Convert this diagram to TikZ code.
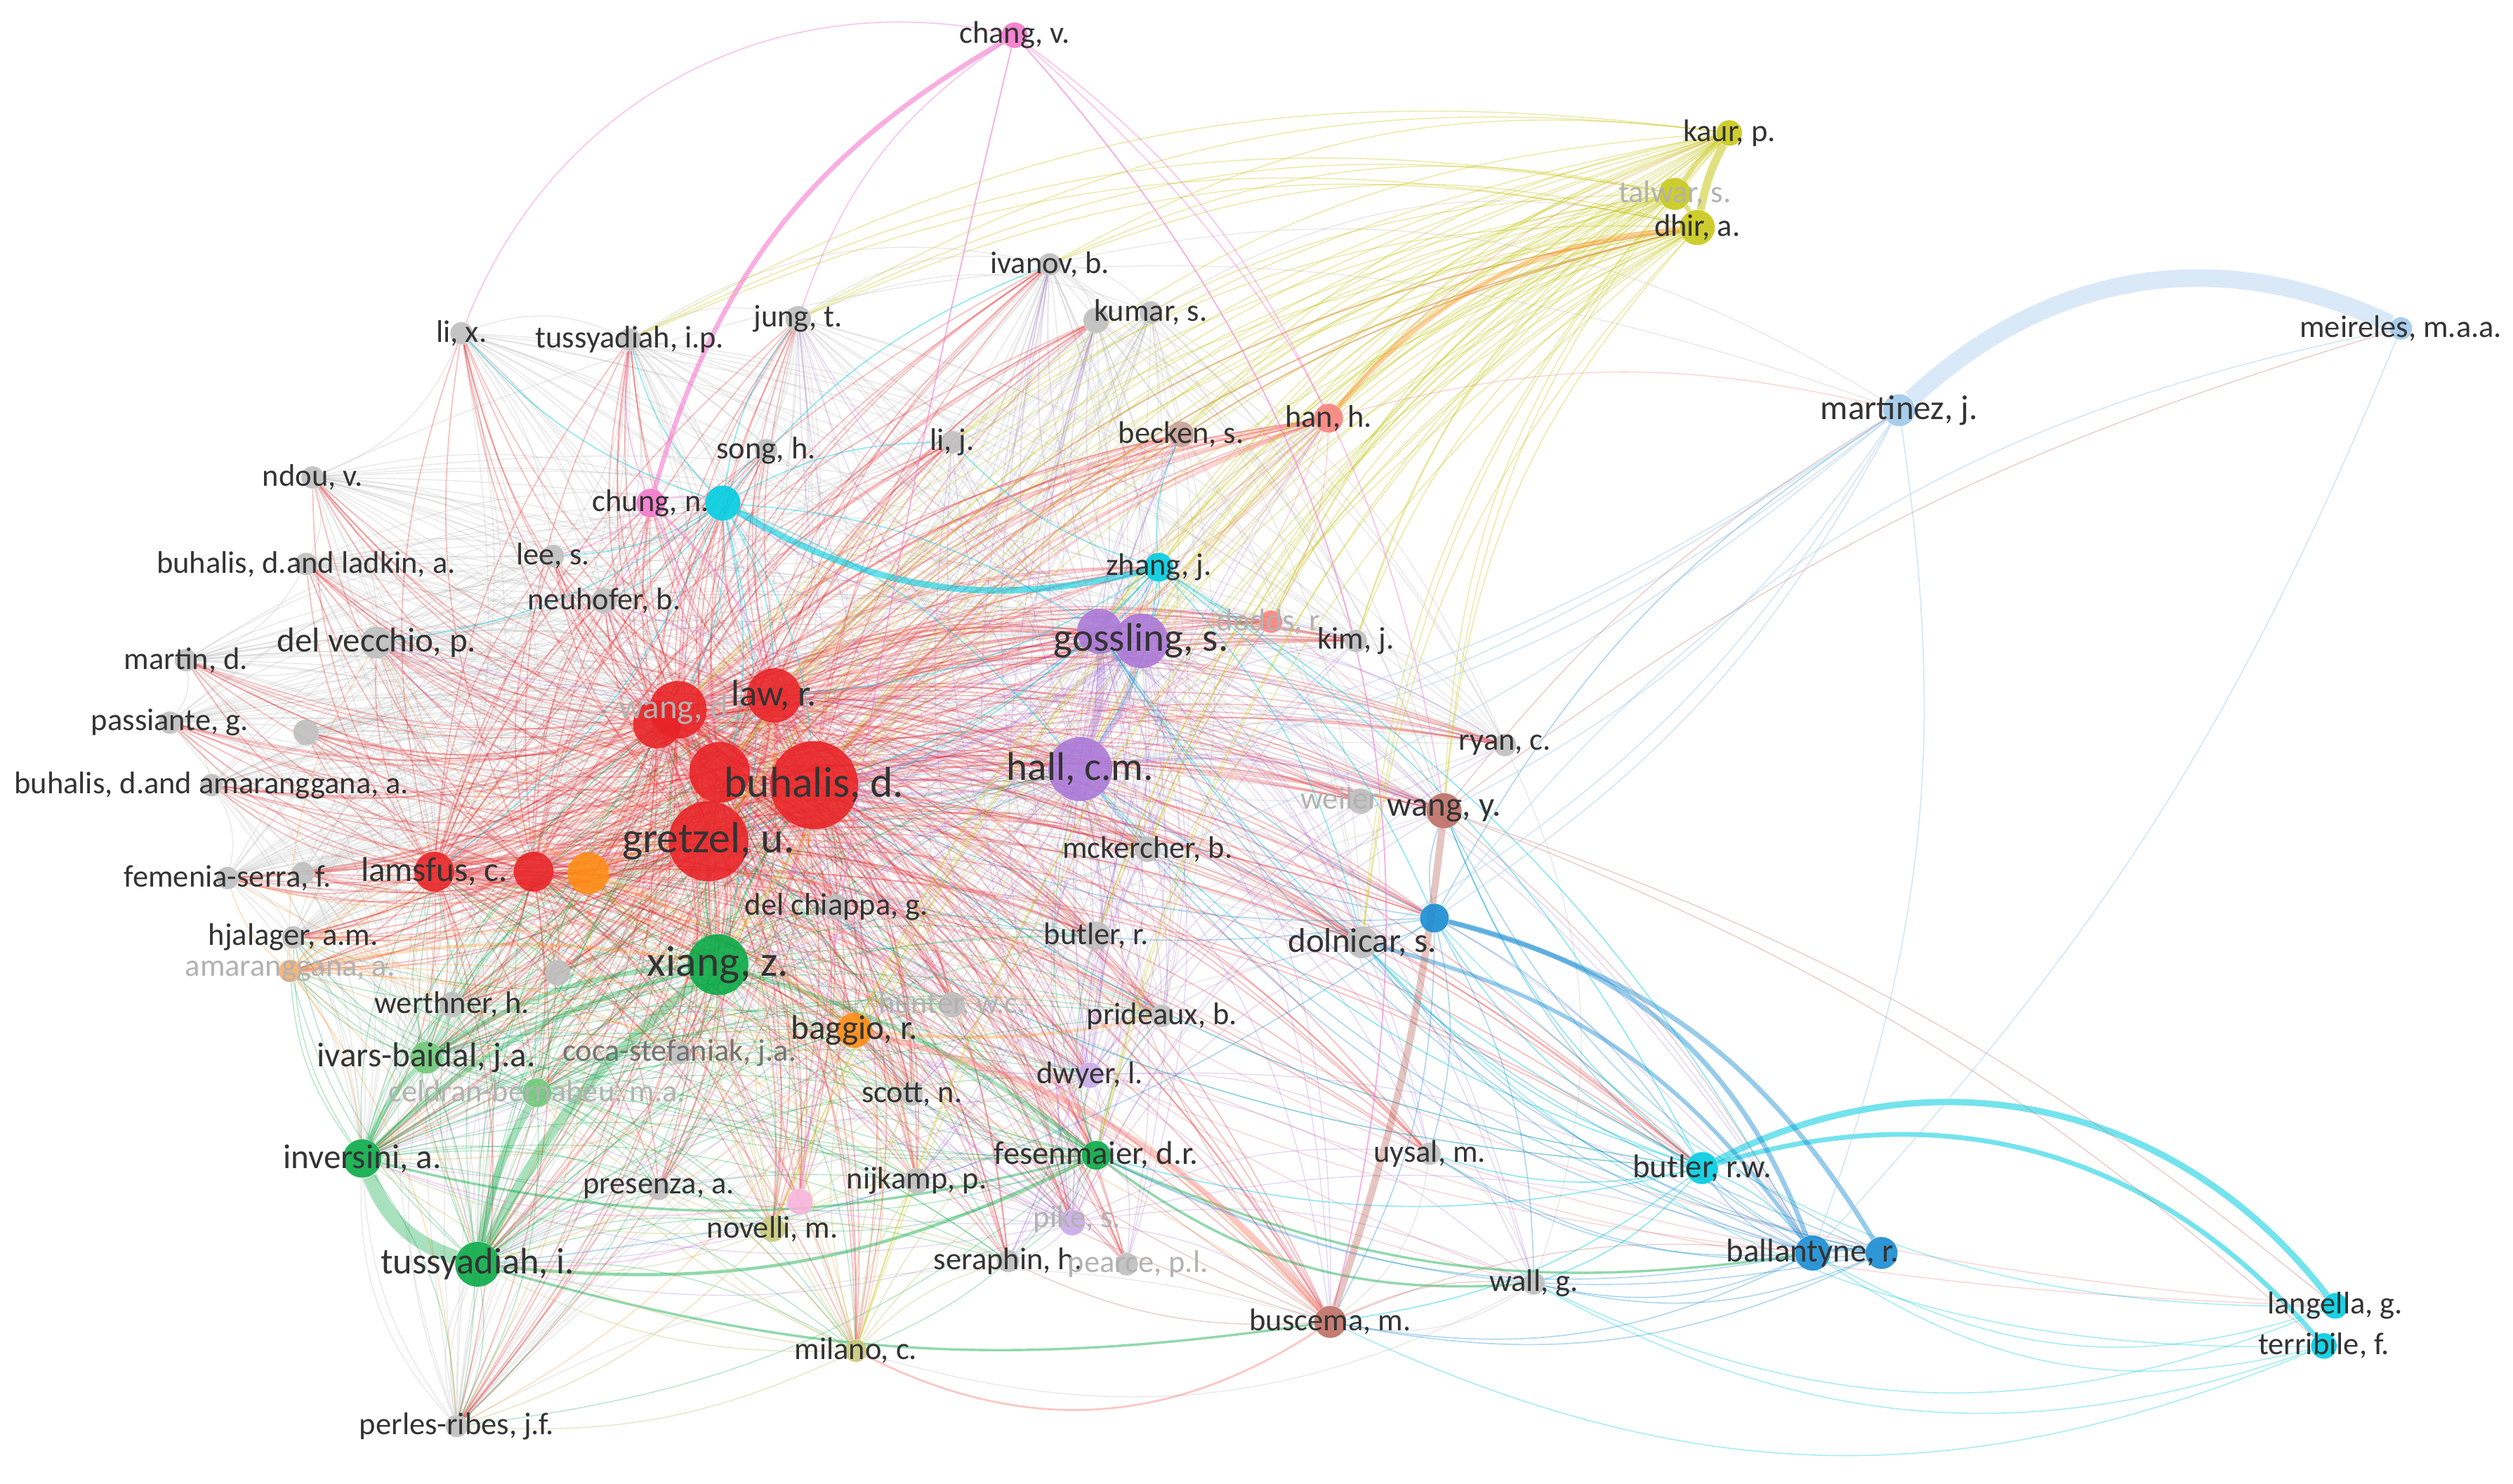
\documentclass[tikz,border=0pt]{standalone}
\usepackage{fontspec}
\setmainfont{Carlito}
\definecolor{cRed}{RGB}{232,35,38}
\definecolor{cGreen}{RGB}{10,170,70}
\definecolor{cLGreen}{RGB}{110,200,120}
\definecolor{cPurple}{RGB}{170,120,215}
\definecolor{cLPurple}{RGB}{200,170,230}
\definecolor{cOrange}{RGB}{255,140,20}
\definecolor{cLOrange}{RGB}{245,175,110}
\definecolor{cYellow}{RGB}{200,200,25}
\definecolor{cOlive}{RGB}{200,200,120}
\definecolor{cCyan}{RGB}{0,205,225}
\definecolor{cBlue}{RGB}{25,140,210}
\definecolor{cLBlue}{RGB}{160,200,235}
\definecolor{cBrown}{RGB}{190,110,100}
\definecolor{cPink}{RGB}{245,120,205}
\definecolor{cLPink}{RGB}{248,180,220}
\definecolor{cSalmon}{RGB}{250,130,125}
\definecolor{cBeck}{RGB}{200,160,150}
\definecolor{cGray}{RGB}{190,190,190}
\pgfdeclarelayer{edges}
\pgfdeclarelayer{fg}
\pgfsetlayers{edges,main,fg}
\tikzset{
  vdot/.style={circle, inner sep=0pt, draw=none, fill opacity=0.9},
  vlab/.style={text=black!80, inner sep=0pt},
  vfaint/.style={text=black!30, inner sep=0pt},
  fXL/.style={font=\fontsize{27}{28}\selectfont},
  fL/.style={font=\fontsize{25}{26}\selectfont},
  fMM/.style={font=\fontsize{23}{24}\selectfont},
  fM/.style={font=\fontsize{21.5}{22}\selectfont},
  fMS/.style={font=\fontsize{20.5}{21}\selectfont},
  fS/.style={font=\fontsize{19.5}{20}\selectfont},
  eR/.style={draw=cRed, line width=0.8pt, draw opacity=0.28},
  eG/.style={draw=cGray, line width=0.6pt, draw opacity=0.35},
  eGr/.style={draw=cGreen, line width=0.6pt, draw opacity=0.3},
  eP/.style={draw=cPurple, line width=0.6pt, draw opacity=0.3},
  eO/.style={draw=cOrange, line width=0.6pt, draw opacity=0.3},
  eY/.style={draw=cYellow, line width=0.6pt, draw opacity=0.4},
  eC/.style={draw=cCyan, line width=0.7pt, draw opacity=0.45},
  eB/.style={draw=cBlue, line width=0.7pt, draw opacity=0.35},
  eLB/.style={draw=cLBlue, line width=0.7pt, draw opacity=0.45},
  ePk/.style={draw=cPink, line width=0.8pt, draw opacity=0.6},
  eBr/.style={draw=cBrown, line width=0.6pt, draw opacity=0.35},
  eS/.style={draw=cSalmon, line width=0.6pt, draw opacity=0.35},
}
\newcommand\vnode[8]{%
  \node[vdot, minimum size=#4pt, fill=#5] (#1) at (#2,#3) {};
  \begin{pgfonlayer}{fg}\node[#6, #8] (#1-l) at (#2,#3) {#7};\end{pgfonlayer}}
\begin{document}
\begin{tikzpicture}[x=1pt, y=-1pt]
\useasboundingbox (0,0) rectangle (1568,926);
% ---------------- nodes ----------------
\vnode{chang}{633}{22}{16}{cPink}{fS}{chang, v.}{vlab}
\vnode{kaur}{1079}{83}{16}{cYellow}{fS}{kaur, p.}{vlab}
\vnode{tal}{1045}{121}{20}{cYellow}{fS}{talwar, s.}{vfaint}
\vnode{dhir}{1059}{142}{22}{cYellow}{fS}{dhir, a.}{vlab}
\vnode{mei}{1498}{205}{14}{cLBlue}{fS}{meireles, m.a.a.}{vlab}
\vnode{mar}{1185}{256}{20}{cLBlue}{fM}{martinez, j.}{vlab}
\vnode{lix}{288}{208}{14}{cGray}{fS}{li, x.}{vlab}
\vnode{tip}{393}{212}{14}{cGray}{fS}{tussyadiah, i.p.}{vlab}
\vnode{jung}{498}{199}{16}{cGray}{fS}{jung, t.}{vlab}
\vnode{ivan}{655}{165}{14}{cGray}{fS}{ivanov, b.}{vlab}
\vnode{kumA}{684}{200}{16}{cGray}{fS}{}{vlab}
\vnode{kumB}{718}{195}{14}{cGray}{fS}{kumar, s.}{vlab}
\vnode{lij}{594}{276}{14}{cGray}{fS}{li, j.}{vlab}
\vnode{song}{478}{281}{14}{cGray}{fS}{song, h.}{vlab}
\vnode{beck}{737}{271}{16}{cBeck}{fS}{becken, s.}{vlab}
\vnode{han}{829}{261}{18}{cSalmon}{fS}{han, h.}{vlab}
\vnode{chp}{406}{314}{18}{cPink}{fS}{chung, n.}{vlab}
\vnode{chc}{451}{314}{22}{cCyan}{fS}{}{vlab}
\vnode{zha}{723}{354}{18}{cCyan}{fS}{zhang, j.}{vlab}
\vnode{lee}{345}{347}{14}{cGray}{fS}{lee, s.}{vlab}
\vnode{neu}{377}{375}{16}{cGray}{fS}{neuhofer, b.}{vlab}
\vnode{ndou}{195}{298}{14}{cGray}{fS}{ndou, v.}{vlab}
\vnode{bdl}{191}{352}{14}{cGray}{fS}{buhalis, d.and ladkin, a.}{vlab}
\vnode{dv}{235}{401}{20}{cGray}{fM}{del vecchio, p.}{vlab}
\vnode{mart}{116}{412}{14}{cGray}{fS}{martin, d.}{vlab}
\vnode{pass}{106}{451}{14}{cGray}{fS}{passiante, g.}{vlab}
\vnode{gpB}{191}{457}{16}{cGray}{fS}{}{vlab}
\vnode{bda}{132}{490}{14}{cGray}{fS}{buhalis, d.and amaranggana, a.}{vlab}
\vnode{fem}{142}{548}{14}{cGray}{fS}{femenia-serra, f.}{vlab}
\vnode{femB}{189}{545}{14}{cGray}{fS}{}{vlab}
\vnode{hja}{183}{585}{14}{cGray}{fS}{hjalager, a.m.}{vlab}
\vnode{ama}{181}{606}{14}{cLOrange}{fS}{amaranggana, a.}{vfaint}
\vnode{lam}{271}{544}{25}{cRed}{fM}{lamsfus, c.}{vlab}
\vnode{redC}{333}{544}{25}{cRed}{fS}{}{vlab}
\vnode{ora}{367}{545}{26}{cOrange}{fS}{}{vlab}
\vnode{wad}{423}{443}{36}{cRed}{fM}{wang, d.}{vfaint}
\vnode{wadB}{410}{452}{30}{cRed}{fS}{}{vlab}
\vnode{law}{483}{434}{34}{cRed}{fMM}{law, r.}{vlab}
\vnode{buhB}{449}{482}{38}{cRed}{fS}{}{vlab}
\vnode{buh}{508}{490}{55}{cRed}{fXL}{buhalis, d.}{vlab}
\vnode{gre}{442}{525}{50}{cRed}{fXL}{gretzel, u.}{vlab}
\vnode{xia}{448}{602}{38}{cGreen}{fXL}{xiang, z.}{vlab}
\vnode{delc}{522}{566}{16}{cGray}{fS}{del chiappa, g.}{vlab}
\vnode{par}{348}{607}{16}{cGray}{fS}{}{vlab}
\vnode{wer}{282}{627}{16}{cGray}{fS}{werthner, h.}{vlab}
\vnode{iva}{266}{660}{20}{cLGreen}{fM}{ivars-baidal, j.a.}{vlab}
\vnode{coca}{424}{657}{14}{cGray}{fS}{coca-stefaniak, j.a.}{text=black!55, inner sep=0pt}
\vnode{cel}{335}{682}{18}{cLGreen}{fS}{celdran-bernabeu, m.a.}{vfaint}
\vnode{bag}{533}{643}{22}{cOrange}{fM}{baggio, r.}{vlab}
\vnode{hun}{594}{627}{16}{cGray}{fS}{hunter, w.c.}{vfaint}
\vnode{but}{684}{584}{18}{cGray}{fS}{butler, r.}{vlab}
\vnode{mck}{716}{530}{16}{cGray}{fS}{mckercher, b.}{vlab}
\vnode{hall}{674}{480}{40}{cPurple}{fL}{hall, c.m.}{vlab}
\vnode{gos}{686}{394}{28}{cPurple}{fS}{}{vlab}
\vnode{gosB}{712}{400}{34}{cPurple}{fL}{gossling, s.}{vlab}
\vnode{dod}{793}{388}{14}{cSalmon}{fS}{dodds, r.}{vfaint}
\vnode{kim}{846}{400}{14}{cGray}{fS}{kim, j.}{vlab}
\vnode{ryan}{939}{465}{14}{cGray}{fS}{ryan, c.}{vlab}
\vnode{wei}{849}{500}{16}{cGray}{fS}{}{vlab}
\begin{pgfonlayer}{fg}\node[fS, vfaint] (wei-t) at (836,498) {weiler};\end{pgfonlayer}
\vnode{wany}{901}{506}{22}{cBrown}{fM}{wang, y.}{vlab}
\vnode{bl}{895}{573}{18}{cBlue}{fS}{}{vlab}
\vnode{dol}{850}{588}{20}{cGray}{fM}{dolnicar, s.}{vlab}
\vnode{pri}{725}{634}{14}{cGray}{fS}{prideaux, b.}{vlab}
\vnode{dwy}{680}{671}{16}{cLPurple}{fS}{dwyer, l.}{vlab}
\vnode{sco}{569}{683}{14}{cGray}{fS}{scott, n.}{vlab}
\vnode{inv}{226}{723}{24}{cGreen}{fM}{inversini, a.}{vlab}
\vnode{pre}{411}{742}{14}{cGray}{fS}{presenza, a.}{vlab}
\vnode{nov}{482}{767}{16}{cOlive}{fS}{novelli, m.}{vlab}
\vnode{novp}{499}{750}{16}{cLPink}{fS}{}{vlab}
\vnode{nij}{572}{737}{16}{cGray}{fS}{nijkamp, p.}{vlab}
\vnode{fes}{684}{721}{18}{cGreen}{fMS}{fesenmaier, d.r.}{vlab}
\vnode{pik}{669}{763}{16}{cLPurple}{fS}{}{vlab}
\begin{pgfonlayer}{fg}\node[fS, vfaint] (pik-t) at (672,761) {pike, s.};\end{pgfonlayer}
\vnode{ser}{629}{787}{14}{cGray}{fS}{seraphin, h.}{vlab}
\vnode{pea}{703}{789}{14}{cGray}{fS}{}{vlab}
\begin{pgfonlayer}{fg}\node[fS, vfaint] (pea-t) at (710,789) {pearce, p.l.};\end{pgfonlayer}
\vnode{tus}{298}{789}{28}{cGreen}{fMM}{tussyadiah, i.}{vlab}
\vnode{uys}{892}{720}{14}{cGray}{fS}{uysal, m.}{vlab}
\vnode{butrw}{1062}{729}{20}{cCyan}{fMS}{butler, r.w.}{vlab}
\vnode{ball}{1131}{782}{22}{cBlue}{fMS}{ballantyne, r.}{vlab}
\vnode{ballB}{1174}{782}{20}{cBlue}{fS}{}{vlab}
\vnode{wall}{957}{801}{14}{cGray}{fS}{wall, g.}{vlab}
\vnode{bus}{830}{825}{20}{cBrown}{fS}{buscema, m.}{vlab}
\vnode{mil}{534}{843}{14}{cOlive}{fS}{milano, c.}{vlab}
\vnode{per}{285}{890}{14}{cGray}{fS}{perles-ribes, j.f.}{vlab}
\vnode{lan}{1457}{815}{16}{cCyan}{fS}{langella, g.}{vlab}
\vnode{ter}{1450}{840}{16}{cCyan}{fS}{terribile, f.}{vlab}
% ---------------- edges ----------------
\begin{pgfonlayer}{edges}
\fill[white] (0,0) rectangle (1568,926);
% gray
\foreach \a in {ndou,bdl,dv,mart,pass,bda,fem,femB,gpB,lix,tip,jung,ivan,kumA,kumB,per,hja,wer}
  \foreach \b in {gre,buh,buhB,law,wad,xia,hall,gos,lam,chc,neu,lee,inv,tus,mck,but,dol,wany,kim,ryan,sco,pri,iva,coca}
    \draw[eG] (\a) to[bend left=16] (\b);
\foreach \a/\b in {ndou/bdl,bdl/dv,dv/mart,mart/pass,pass/bda,bda/fem,ndou/dv,bdl/mart,lix/tip,tip/jung,jung/ivan,ivan/kumA,kumA/kumB,ivan/kumB,ndou/mar,ivan/mar,kumB/dhir,jung/kumB,lix/ndou,tip/ivan,per/inv,per/tus,fem/hja,hja/ama,wall/bus,uys/wall,uys/bus,ryan/wall,kim/ryan,wei/dol,wall/mil,per/bus}
  \draw[eG] (\a) to[bend left=22] (\b);
% red
\foreach \a in {gre,buh,buhB,law,wad,wadB,lam,redC}
  \foreach \b in {lix,tip,jung,ivan,kumA,lij,song,beck,han,chp,chc,zha,lee,neu,ndou,bdl,dv,mart,pass,gpB,bda,fem,femB,hja,ama,par,wer,iva,coca,cel,bag,hun,but,mck,hall,gos,gosB,dod,kim,ryan,wei,wany,dol,pri,dwy,sco,inv,pre,nov,novp,nij,fes,pik,ser,pea,tus,uys,bus,mil,per,xia,delc,ora,bl,butrw}
    \draw[eR] (\a) to[bend left=16] (\b);
\foreach \a/\b in {gre/buh,gre/buhB,buh/law,law/wad,wad/buhB,gre/lam,lam/redC,gre/wad,buh/wad,law/gre,buh/lam,redC/gre}
  \draw[eR, line width=1.8pt] (\a) to[bend left=16] (\b);
\foreach \a in {gre,buh,law,wad}
  \draw[eS, line width=1.6pt] (\a) to[bend left=14] (han);
\foreach \a in {gre,buh,law}
  \draw[eR, line width=1pt] (\a) to[bend left=18] (dhir);
\foreach \a in {gre,buh}
  \foreach \b in {ball,butrw,wall,lan}
    \draw[eR, line width=0.6pt, draw opacity=0.2] (\a) to[bend right=14] (\b);
% purple
\foreach \a in {hall,gos,gosB,dwy,pik}
  \foreach \b in {gre,buh,buhB,law,wad,xia,lam,bag,fes,mck,but,pri,sco,dol,wany,wei,kim,dod,zha,han,beck,lij,kumA,ivan,jung,chc,dv,neu,iva,inv,tus,nij,ser,pea,bus,ball,wall,uys,ryan}
    \draw[eP] (\a) to[bend left=16] (\b);
\draw[eP, line width=5pt, draw opacity=0.35] (gos) to[bend left=10] (hall);
\draw[eP, line width=4pt, draw opacity=0.35] (gosB) to[bend left=12] (hall);
\draw[eP, line width=2pt] (hall) to[bend left=10] (buh);
\draw[eP, line width=2pt] (gosB) to[bend left=12] (buh);
\draw[eP, line width=1.5pt] (hall) to[bend left=10] (dwy);
\draw[eP, line width=1.5pt] (hall) to[bend left=14] (wany);
% green
\foreach \a in {xia,inv,tus,fes,iva,cel}
  \foreach \b in {gre,buh,buhB,law,wad,lam,redC,ora,bag,coca,wer,hja,ama,pre,nov,nij,ser,mil,per,hall,dwy,but,pri,sco,hun,delc}
    \draw[eGr] (\a) to[bend left=16] (\b);
\draw[eGr, line width=9pt, draw opacity=0.35] (inv) to[bend right=25] (tus);
\draw[eGr, line width=6pt, draw opacity=0.35] (tus) to[bend left=12] (xia);
\draw[eGr, line width=5pt, draw opacity=0.35] (cel) to[bend right=10] (tus);
\draw[eGr, line width=3pt, draw opacity=0.35] (inv) to[bend left=14] (xia);
\draw[eGr, line width=3pt, draw opacity=0.35] (iva) to[bend left=14] (xia);
\draw[eGr, line width=3pt, draw opacity=0.35] (inv) to[bend left=10] (iva);
\draw[eGr, line width=2.5pt, draw opacity=0.35] (xia) to[bend left=10] (fes);
\draw[eGr, line width=2pt, draw opacity=0.45] (tus) to[bend right=16] (fes);
\draw[eGr, line width=1.5pt, draw opacity=0.45] (inv) to[bend right=14] (fes);
\draw[eGr, line width=1.5pt, draw opacity=0.45] (fes) to[bend right=16] (ball);
\draw[eGr, line width=1.5pt, draw opacity=0.45] (fes) to[bend right=20] (wall);
\draw[eGr, line width=1.5pt, draw opacity=0.45] (tus) to[bend right=12] (bus);
\draw[eGr, line width=1.2pt, draw opacity=0.45] (xia) to[bend left=8] (gre);
\draw[eGr, line width=1.2pt, draw opacity=0.45] (xia) to[bend left=8] (buh);
% orange
\foreach \a in {ora,bag,ama}
  \foreach \b in {gre,buh,law,xia,lam,wad,hja,wer,coca,sco,pri,nij,bus,mil,per,dv,fem,inv,tus}
    \draw[eO] (\a) to[bend left=16] (\b);
\draw[eO, line width=2pt] (bag) to[bend right=8] (pri);
\draw[eO, line width=2pt] (ama) to[bend left=10] (xia);
\draw[eO, line width=2pt] (ora) to[bend left=8] (gre);
\draw[eO, line width=1.5pt] (ora) to[bend left=8] (bag);
\draw[eS, line width=3.5pt, draw opacity=0.45] (bus) to[bend right=18] (bag);
\draw[eS, line width=1.2pt, draw opacity=0.45] (bus) to[bend left=30] (mil);
% yellow / olive
\foreach \a in {dhir,tal,kaur}
  \foreach \b in {gre,buh,buhB,law,wad,xia,hall,gos,gosB,lij,ivan,jung,tip,han,beck,zha,dod,kim,mck,but,wany,dol,bag,fes,nov,mil}
    \draw[eY] (\a) to[bend right=18] (\b);
\draw[eY, line width=5pt, draw opacity=0.55] (dhir) to[bend left=8] (kaur);
\draw[eY, line width=3pt, draw opacity=0.55] (tal) to[bend left=8] (kaur);
\draw[eY, line width=3pt, draw opacity=0.55] (tal) to[bend left=8] (dhir);
\draw[draw=cOrange, line width=3pt, draw opacity=0.4] (han) to[bend left=22] (dhir);
\foreach \a in {nov,mil}
  \foreach \b in {gre,buh,xia,bag,nij,pre,ser,sco,fes,tus,inv,cel,per,hall,dwy,law}
    \draw[draw=cOlive, line width=0.6pt, draw opacity=0.45] (\a) to[bend left=14] (\b);
% cyan
\draw[eC, line width=4pt, draw opacity=0.6] (chc) to[bend right=22] (zha);
\foreach \b in {gre,buh,law,wad,lee,neu,song,lij,jung,tip,ivan,gos,hall,xia,lam,dv,lix}
  \draw[eC] (chc) to[bend left=14] (\b);
\foreach \b in {gos,gosB,hall,buh,gre,law,beck,lij,dol,bl,ball,butrw}
  \draw[eC] (zha) to[bend left=14] (\b);
\draw[eC, line width=4pt, draw opacity=0.55] (butrw) to[bend left=40] (lan);
\draw[eC, line width=3pt, draw opacity=0.55] (butrw) to[bend left=33] (ter);
\foreach \b in {ball,bl,dol,wany,hall,gos,bus,wall,uys,gre,buh,fes}
  \draw[eC] (butrw) to[bend left=14] (\b);
\foreach \a/\b in {lan/ball,ter/ball,lan/bl,ter/dol,ter/bus,lan/wall,ter/wall}
  \draw[eC, draw opacity=0.35] (\a) to[bend left=24] (\b);
% blue
\draw[eB, line width=3pt, draw opacity=0.45] (bl) to[bend left=28] (ball);
\draw[eB, line width=3pt, draw opacity=0.45] (bl) to[bend left=22] (ballB);
\draw[eB, line width=2.5pt, draw opacity=0.45] (dol) to[bend left=20] (ball);
\draw[eB, line width=2pt, draw opacity=0.45] (ball) to[bend left=8] (ballB);
\foreach \b in {butrw,wany,dol,mar,hall,gos,gre,buh,uys,wall,bus,tus}
  \draw[eB] (bl) to[bend left=14] (\b);
\foreach \a in {ball,ballB}
  \foreach \b in {dol,wany,uys,wall,bus,fes,hall,gos,butrw}
    \draw[eB] (\a) to[bend left=18] (\b);
% light blue
\draw[eLB, line width=11pt, draw opacity=0.4] (mar) to[bend left=34] (mei);
\foreach \b in {gre,buh,hall,xia,dol,wany,bl,ball}
  \draw[eLB] (mar) to[bend left=14] (\b);
\draw[eLB] (mei) to[bend left=10] (ball);
\draw[eLB] (mei) to[bend right=20] (bl);
% pink
\draw[ePk, line width=3pt] (chang) to[bend right=22] (chp);
\draw[ePk, draw opacity=0.4] (chang) to[bend right=40] (lix);
\draw[ePk, draw opacity=0.4] (chang) to[bend right=18] (jung);
\draw[ePk] (chang) to[bend right=3] (novp);
\draw[ePk] (chang) to[bend left=28] (bus);
\draw[ePk, draw opacity=0.4] (chang) to[bend left=20] (wany);
\draw[ePk, draw opacity=0.4] (chang) to[bend left=14] (han);
\foreach \b in {gre,buh,law,chc,lee,neu,tip,wad}
  \draw[ePk, draw opacity=0.45] (chp) to[bend left=14] (\b);
\foreach \b in {gre,buh,xia,bag,tus,inv}
  \draw[ePk, draw opacity=0.35] (novp) to[bend left=14] (\b);
% brown / salmon
\draw[eBr, line width=4.5pt, draw opacity=0.4] (wany) to[bend left=6] (bus);
\foreach \b in {lan,ter,mei,mar,ball}
  \draw[eBr] (wany) to[bend left=10] (\b);
\foreach \b in {gre,buh,xia,hall,ball,wall,ser}
  \draw[eBr] (bus) to[bend left=14] (\b);
\foreach \b in {gre,buh,law,wad,hall,gos,zha,kaur,mar,beck,dod}
  \draw[eS] (han) to[bend left=14] (\b);
\foreach \b in {gre,buh,hall,gos,wany}
  \draw[eS] (dod) to[bend left=14] (\b);
\end{pgfonlayer}
\end{tikzpicture}
\end{document}
